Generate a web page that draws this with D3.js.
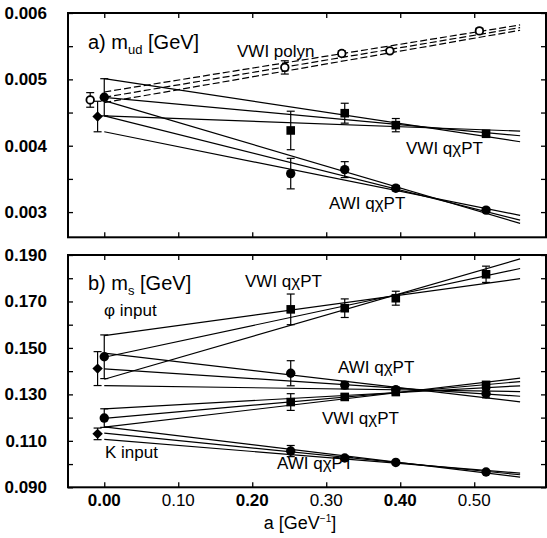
<!DOCTYPE html>
<html><head><meta charset="utf-8">
<script src="https://cdn.jsdelivr.net/npm/d3@7"></script>
<style>
html,body{margin:0;padding:0;background:#fff;}
svg{display:block;font-family:"Liberation Sans",Arial,Helvetica,sans-serif;}
</style></head>
<body><svg id="c" width="547" height="538"></svg>
<script>
// ---------- data ----------
const xTicks = [0, 0.1, 0.2, 0.3, 0.4, 0.5];
const xTickLabels = ["0.00", "0.10", "0.20", "0.30", "0.40", "0.50"];
const xTickBold = [true, false, true, false, true, false];

const topYMajor = [0.003, 0.004, 0.005, 0.006];
const topYLabels = ["0.003", "0.004", "0.005", "0.006"];
const topYMinor = [0.0030, 0.0035, 0.0040, 0.0045, 0.0050, 0.0055, 0.0060];
const botYMajor = [0.09, 0.11, 0.13, 0.15, 0.17, 0.19];
const botYLabels = ["0.090", "0.110", "0.130", "0.150", "0.170", "0.190"];
const botYMinor = [0.09, 0.10, 0.11, 0.12, 0.13, 0.14, 0.15, 0.16, 0.17, 0.18, 0.19];

// lattice spacings
const latticeA = [0.252, 0.325, 0.394, 0.516];
const polynA = [-0.019, 0.244, 0.321, 0.386, 0.507];
const chiralA = 0.0;      // VWI extrapolated point
const awiChiralA = -0.009; // AWI extrapolated point
const lineA = [0, 0.562];  // fit line span

// panel a) m_ud
const polynY   = [0.00469, 0.00518, 0.00539, 0.00543, 0.00573];
const polynErr = [0.00011, 0.00010, 0.00004, 0.00002, 0.00004];
const vwiUdY   = [0.00423, 0.00449, 0.00431, 0.00418];
const vwiUdErr = [0.00029, 0.00015, 0.00010, 0.00004];
const awiUdY   = [0.00358, 0.00364, 0.00336, 0.00303];
const awiUdErr = [0.00023, 0.00012, 0.00004, 0.00003];
const vwiUd0 = [0.00473, 0.00028];
const awiUd0 = [0.00444, 0.00023];
const polynLines = [[0.00481, 0.00582], [0.00473, 0.00578], [0.00465, 0.00574]];
const vwiUdLines = [[0.00501, 0.00406], [0.00473, 0.00415], [0.00445, 0.00422]];
const awiUdLines = [[0.00468, 0.00283], [0.00445, 0.00288], [0.00421, 0.00295]];

// panel b) m_s
const vwiPhiY   = [0.1666, 0.1671, 0.1714, 0.1817];
const vwiPhiErr = [0.0066, 0.0040, 0.0030, 0.0035];
const awiPhiY   = [0.1391, 0.1340, 0.1320, 0.1303];
const awiPhiErr = [0.0054, 0.0016, 0.0012, 0.0018];
const vwiKY     = [0.1267, 0.1289, 0.1310, 0.1341];
const vwiKErr   = [0.0036, 0.0012, 0.0010, 0.0012];
const awiKY     = [0.1056, 0.1026, 0.1007, 0.0966];
const awiKErr   = [0.0024, 0.0008, 0.0006, 0.0006];
const vwiPhi0 = [0.1462, 0.0094];
const awiPhi0 = [0.1411, 0.0073];
const vwiK0   = [0.1198, 0.0040];
const awiK0   = [0.1130, 0.0025];
const vwiPhiLines = [[0.1553, 0.1798], [0.1460, 0.1842], [0.1365, 0.1883]];
const awiPhiLines = [[0.1478, 0.1268], [0.1410, 0.1292], [0.1338, 0.1312]];
const vwiKLines   = [[0.1238, 0.1337], [0.1197, 0.1355], [0.1159, 0.1370]];
const awiKLines   = [[0.1160, 0.0944], [0.1133, 0.0954], [0.1106, 0.0961]];

// ---------- drawing ----------
const svg = d3.select("#c");
const x = d3.scaleLinear().domain([-0.049, 0.597]).range([68, 546]);
const yTop = d3.scaleLinear().domain([0.00262, 0.006]).range([237.3, 13]);
const yBot = d3.scaleLinear().domain([0.09, 0.19]).range([487.3, 255]);

function frame(y) {
  const [y0, y1] = y.range();
  const [x0, x1] = x.range();
  svg.append("rect").attr("x", x0).attr("y", y1).attr("width", x1 - x0).attr("height", y0 - y1)
    .attr("fill", "none").attr("stroke", "#000").attr("stroke-width", 2);
  const g = svg.append("g");
  g.append("g").attr("transform", `translate(${x0},0)`)
    .call(d3.axisLeft(y).tickValues(y === yTop ? topYMinor : botYMinor).tickSize(-5).tickFormat(""));
  g.append("g").attr("transform", `translate(${x1},0)`)
    .call(d3.axisRight(y).tickValues(y === yTop ? topYMinor : botYMinor).tickSize(-5).tickFormat(""));
  g.append("g").attr("transform", `translate(0,${y1})`)
    .call(d3.axisTop(x).tickValues(xTicks).tickSize(-5).tickFormat(""));
  g.append("g").attr("transform", `translate(0,${y0})`)
    .call(d3.axisBottom(x).tickValues(xTicks).tickSize(-5).tickFormat(""));
  g.selectAll(".domain").remove();
  g.selectAll(".tick line").attr("stroke", "#000").attr("stroke-width", 1.3);
  const labs = y === yTop ? topYLabels : botYLabels;
  const vals = y === yTop ? topYMajor : botYMajor;
  const la = svg.append("g").attr("transform", `translate(${x0},0)`)
    .call(d3.axisLeft(y).tickValues(vals).tickSize(0).tickPadding(21).tickFormat((d, i) => labs[i]));
  la.select(".domain").remove();
  la.selectAll("text").attr("font-size", 17).attr("font-weight", "bold")
    .attr("font-family", "Liberation Sans, Arial, sans-serif").attr("fill", "#000");
}

function fitLines(y, lines, dashed) {
  const line = d3.line().x(d => x(d[0])).y(d => y(d[1]));
  lines.forEach(l => {
    svg.append("path").attr("d", line([[lineA[0], l[0]], [lineA[1], l[1]]]))
      .attr("fill", "none").attr("stroke", "#000").attr("stroke-width", 1.2)
      .attr("stroke-dasharray", dashed ? "7,3" : null);
  });
}

function errBar(y, a, v, e) {
  const px = x(a);
  const g = svg.append("g").attr("stroke", "#000").attr("stroke-width", 1.2);
  g.append("line").attr("x1", px).attr("x2", px).attr("y1", y(v + e)).attr("y2", y(v - e));
  g.append("line").attr("x1", px - 4).attr("x2", px + 4).attr("y1", y(v + e)).attr("y2", y(v + e));
  g.append("line").attr("x1", px - 4).attr("x2", px + 4).attr("y1", y(v - e)).attr("y2", y(v - e));
}

function marker(y, a, v, kind) {
  const px = x(a), py = y(v);
  if (kind === "square") {
    svg.append("rect").attr("x", px - 4.3).attr("y", py - 4.3).attr("width", 8.6).attr("height", 8.6).attr("fill", "#000");
  } else if (kind === "circle") {
    svg.append("circle").attr("cx", px).attr("cy", py).attr("r", 4.7).attr("fill", "#000");
  } else if (kind === "open") {
    svg.append("circle").attr("cx", px).attr("cy", py).attr("r", 3.8).attr("fill", "#fff")
      .attr("stroke", "#000").attr("stroke-width", 1.8);
  } else if (kind === "diamond") {
    const s = 5.2;
    svg.append("path").attr("d", `M${px},${py - s}L${px + s},${py}L${px},${py + s}L${px - s},${py}Z`).attr("fill", "#000");
  }
}

function series(y, as, vs, es, kind) {
  as.forEach((a, i) => { errBar(y, a, vs[i], es[i]); marker(y, a, vs[i], kind); });
}

function text(tx, ty, str, size) {
  return svg.append("text").attr("x", tx).attr("y", ty).attr("font-size", size || 17).attr("fill", "#000").text(str);
}

// ---- panel a ----
frame(yTop);
fitLines(yTop, polynLines, true);
fitLines(yTop, vwiUdLines, false);
fitLines(yTop, awiUdLines, false);
series(yTop, polynA, polynY, polynErr, "open");
series(yTop, latticeA, vwiUdY, vwiUdErr, "square");
series(yTop, latticeA, awiUdY, awiUdErr, "circle");
series(yTop, [chiralA], [vwiUd0[0]], [vwiUd0[1]], "circle");
series(yTop, [awiChiralA], [awiUd0[0]], [awiUd0[1]], "diamond");

// ---- panel b ----
frame(yBot);
fitLines(yBot, vwiPhiLines, false);
fitLines(yBot, awiPhiLines, false);
fitLines(yBot, vwiKLines, false);
fitLines(yBot, awiKLines, false);
series(yBot, latticeA, vwiPhiY, vwiPhiErr, "square");
series(yBot, latticeA, awiPhiY, awiPhiErr, "circle");
series(yBot, latticeA, vwiKY, vwiKErr, "square");
series(yBot, latticeA, awiKY, awiKErr, "circle");
series(yBot, [chiralA], [vwiPhi0[0]], [vwiPhi0[1]], "circle");
series(yBot, [awiChiralA], [awiPhi0[0]], [awiPhi0[1]], "diamond");
series(yBot, [chiralA], [vwiK0[0]], [vwiK0[1]], "circle");
series(yBot, [awiChiralA], [awiK0[0]], [awiK0[1]], "diamond");

// ---- x tick labels ----
xTicks.forEach((t, i) => {
  svg.append("text").attr("x", x(t)).attr("y", 506).attr("text-anchor", "middle")
    .attr("font-size", 17).attr("font-weight", xTickBold[i] ? "bold" : "normal").text(xTickLabels[i]);
});
const xt = svg.append("text").attr("x", 300).attr("y", 529).attr("text-anchor", "middle").attr("font-size", 18);
xt.append("tspan").text("a [GeV");
xt.append("tspan").attr("font-size", 10).attr("dy", -7).text("−1");
xt.append("tspan").attr("dy", 7).text("]");

// ---- annotations ----
const ta = svg.append("text").attr("x", 88).attr("y", 49).attr("font-size", 20);
ta.append("tspan").text("a) m");
ta.append("tspan").attr("font-size", 13).attr("dy", 5).text("ud");
ta.append("tspan").attr("dy", -5).text(" [GeV]");
text(237, 57, "VWI polyn");
text(406, 154, "VWI qχPT");
text(329, 209, "AWI qχPT");

const tb = svg.append("text").attr("x", 88).attr("y", 290).attr("font-size", 20);
tb.append("tspan").text("b) m");
tb.append("tspan").attr("font-size", 13).attr("dy", 5).text("s");
tb.append("tspan").attr("dy", -5).text(" [GeV]");
text(245, 287, "VWI qχPT");
text(104, 316, "φ input");
text(338, 373, "AWI qχPT");
text(322, 424, "VWI qχPT");
text(105, 458, "K input");
text(277, 469, "AWI qχPT");
</script></body></html>
